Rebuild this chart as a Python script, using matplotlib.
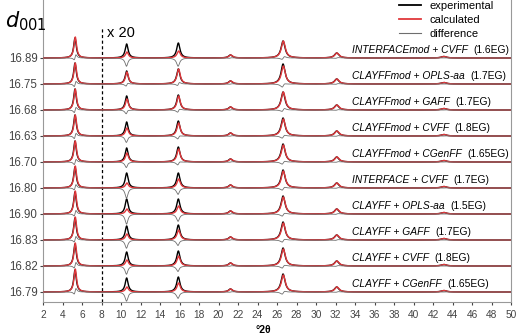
import matplotlib
matplotlib.use('Agg')
import matplotlib.pyplot as plt
from matplotlib.lines import Line2D
import numpy as np

plt.rcParams['font.family'] = ['Liberation Sans', 'DejaVu Sans']

# d001 spacing and model names, top to bottom
d001 = ['16.89', '16.75', '16.68', '16.63', '16.70', '16.80', '16.90', '16.83', '16.82', '16.79']
models = ['INTERFACEmod + CVFF', 'CLAYFFmod + OPLS-aa', 'CLAYFFmod + GAFF', 'CLAYFFmod + CVFF',
          'CLAYFFmod + CGenFF', 'INTERFACE + CVFF', 'CLAYFF + OPLS-aa', 'CLAYFF + GAFF',
          'CLAYFF + CVFF', 'CLAYFF + CGenFF']
eg = ['(1.6EG)', '(1.7EG)', '(1.7EG)', '(1.8EG)', '(1.65EG)', '(1.7EG)', '(1.5EG)', '(1.7EG)',
      '(1.8EG)', '(1.65EG)']

# peak positions (deg 2theta); intensities beyond 8 deg are shown x20
peaks = [5.28, 10.58, 15.88, 21.22, 26.62, 32.12, 43.1]
exp_h = [
    [20, 14, 15, 3, 17, 5, 1.5],
    [21, 13, 15, 3, 20, 5, 1.5],
    [21, 14, 15, 3, 18, 5, 1.5],
    [21, 14, 15, 3, 18, 5, 1.5],
    [21, 14, 15, 3, 18, 5, 1.5],
    [21, 15, 15, 3, 18, 5, 1.5],
    [22, 15, 15, 3, 18, 5, 1.5],
    [22, 14, 15, 3, 18, 5, 1.5],
    [22, 14, 15, 3, 18, 5, 1.5],
    [22, 14, 15, 3, 18, 5, 1.5],
]
calc_h = [
    [21, 6, 7, 3, 17, 5, 1.5],
    [21, 12, 15, 3, 18, 5, 1.5],
    [21, 11, 14, 3, 18, 5, 1.5],
    [21, 8, 13, 3, 17, 5, 1.5],
    [21, 9, 13, 3, 17, 5, 1.5],
    [22, 5, 9, 3, 17, 5, 1.5],
    [23, 5, 8, 3, 17, 5, 1.5],
    [23, 6, 10, 3, 17, 5, 1.5],
    [23, 6, 10, 3, 17, 5, 1.5],
    [23, 5, 9, 3, 17, 5, 1.5],
]
calc_shift = 0.03


def pattern(x, heights, shift=0.0):
    y = np.zeros_like(x)
    for p, h in zip(peaks, heights):
        g = 0.14 + 0.004 * p
        y += h / (1 + ((x - p - shift) / g) ** 2)
    return y


x = np.arange(2, 50.001, 0.01)
fig = plt.figure(figsize=(5.2, 3.35), dpi=100)
ax = fig.add_axes([43 / 520, 33 / 335, 468 / 520, 302 / 335])

red = '#e0383c'
base = -(58 + 26 * np.arange(len(d001)))
for i in range(len(d001)):
    e = pattern(x, exp_h[i])
    c = pattern(x, calc_h[i], calc_shift)
    ax.plot(x, base[i] + e, color='black', lw=1.0, zorder=2)
    ax.plot(x, base[i] + c, color=red, lw=1.0, zorder=3)
    ax.plot(x, base[i] + (c - e), color='#6e6e6e', lw=0.6, zorder=4)
    t = ax.text(33.7, base[i] + 3, models[i], fontsize=7.4, style='italic', va='bottom', ha='left')
    ax.annotate(eg[i], xy=(1, 0), xycoords=t, xytext=(4, 0), textcoords='offset points',
                fontsize=7.4, va='bottom', ha='left')

ax.axvline(8, ymin=0, ymax=(302 - 28) / 302, color='black', ls='--', lw=0.9, dashes=(2.5, 2))
ax.text(8.6, -33, 'x 20', fontsize=10.5, va='center', ha='left')

ax.set_xlim(2, 50)
ax.set_ylim(-302, 0)
ax.set_xticks(np.arange(2, 51, 2))
ax.set_yticks(base)
ax.set_yticklabels(d001)
ax.tick_params(axis='x', labelsize=7.3, colors='#444444', length=2, pad=4)
ax.tick_params(axis='y', labelsize=8.3, colors='#444444', length=2, pad=2)
for s in ['left', 'bottom', 'right']:
    ax.spines[s].set_color('#999999')
ax.spines['top'].set_visible(False)
ax.set_xlabel('°2θ', fontsize=7.5, fontweight='bold', labelpad=2)
ax.xaxis.set_label_coords(0.47, -0.075)

fig.text(5 / 520, 1 - 21 / 335, r'$d_{001}$', fontsize=15, va='center', ha='left')

handles = [Line2D([], [], color='black', lw=1.3), Line2D([], [], color=red, lw=1.3),
           Line2D([], [], color='#6e6e6e', lw=0.8)]
ax.legend(handles, ['experimental', 'calculated', 'difference'], loc='upper right',
          bbox_to_anchor=(0.985, 1.03), frameon=False, fontsize=8, handlelength=2.0,
          labelspacing=0.35, handletextpad=0.8)

fig.savefig('out.png', dpi=100)
